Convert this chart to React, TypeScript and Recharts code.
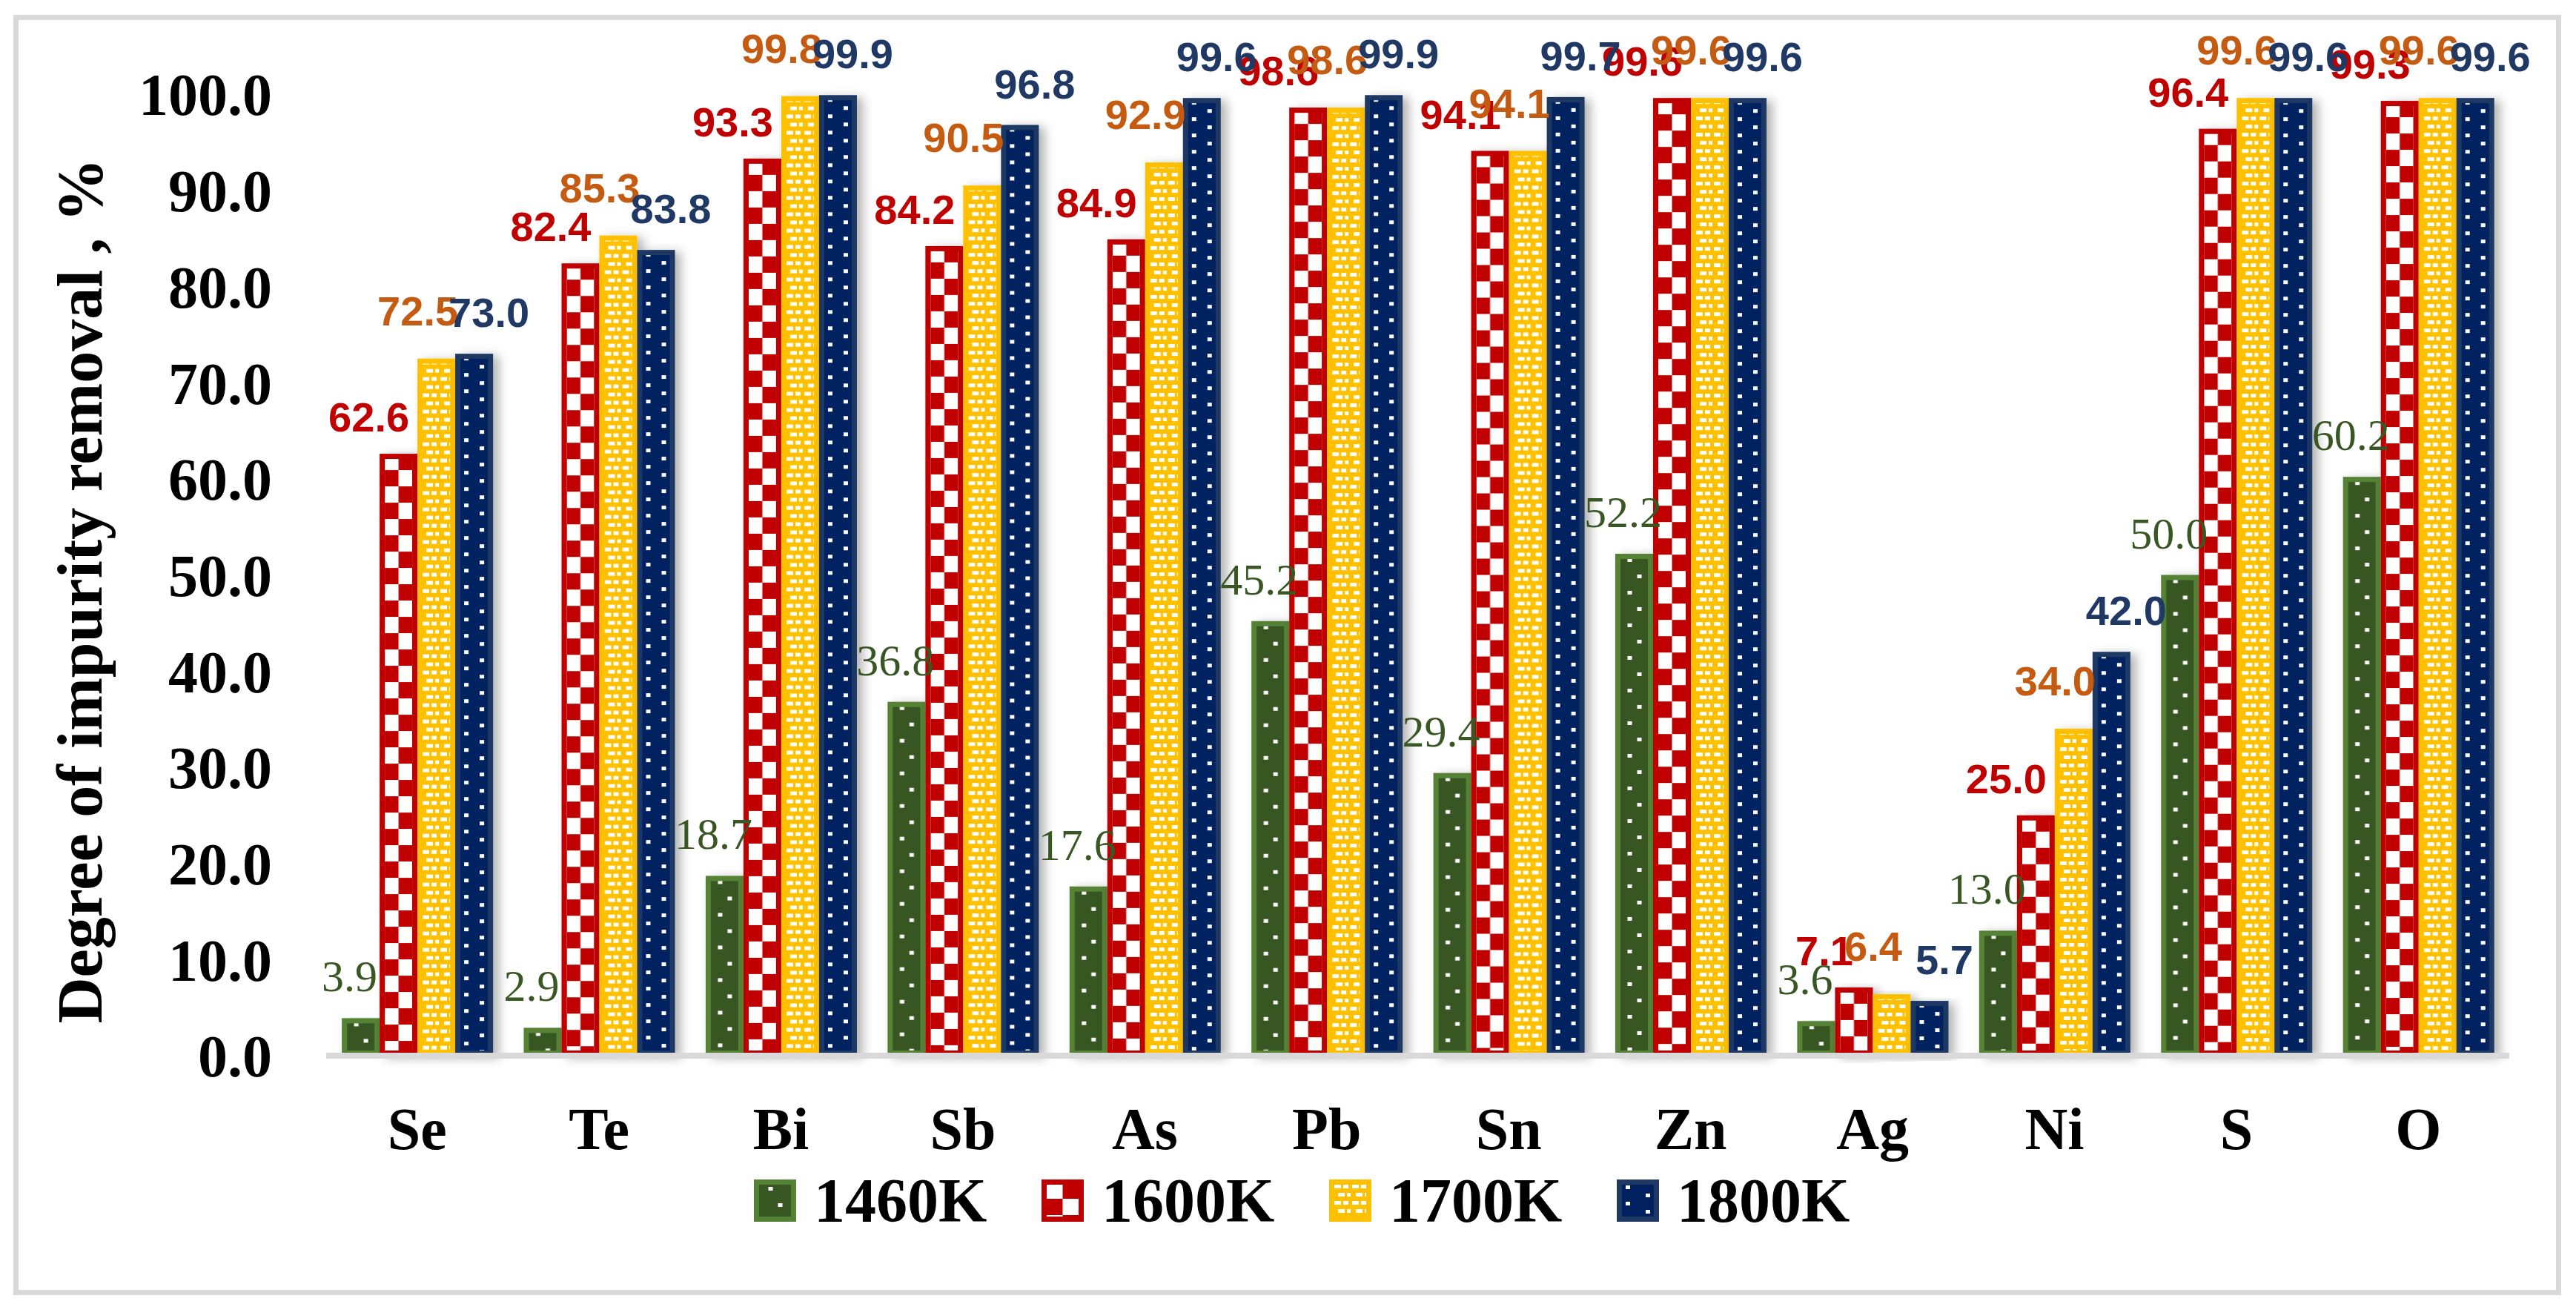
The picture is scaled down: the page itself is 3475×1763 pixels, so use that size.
import { Bar, BarChart, LabelList, XAxis, YAxis } from "recharts";

const elements = ["Se", "Te", "Bi", "Sb", "As", "Pb", "Sn", "Zn", "Ag", "Ni", "S", "O"];
const removal1460 = [3.9, 2.9, 18.7, 36.8, 17.6, 45.2, 29.4, 52.2, 3.6, 13.0, 50.0, 60.2];
const removal1600 = [62.6, 82.4, 93.3, 84.2, 84.9, 98.6, 94.1, 99.6, 7.1, 25.0, 96.4, 99.3];
const removal1700 = [72.5, 85.3, 99.8, 90.5, 92.9, 98.6, 94.1, 99.6, 6.4, 34.0, 99.6, 99.6];
const removal1800 = [73.0, 83.8, 99.9, 96.8, 99.6, 99.9, 99.7, 99.6, 5.7, 42.0, 99.6, 99.6];
const yTicks = [0, 10, 20, 30, 40, 50, 60, 70, 80, 90, 100];

const data = elements.map((element, i) => ({
  element,
  k1460: removal1460[i],
  k1600: removal1600[i],
  k1700: removal1700[i],
  k1800: removal1800[i],
}));

const SERIF = '"Liberation Serif", "Times New Roman", serif';
const SANS = '"Liberation Sans", Arial, sans-serif';
const BORDER = 7;

type Kind = "green" | "red" | "yellow" | "blue";

// label nudges are per series only (Excel had them dragged around by hand)
const SERIES: {
  key: string;
  name: string;
  kind: Kind;
  border: string;
  labelColor: string;
  labelFont: string;
  labelWeight: number;
  dx: number;
  lift: number;
}[] = [
  { key: "k1460", name: "1460K", kind: "green", border: "#548235", labelColor: "#385723", labelFont: SERIF, labelWeight: 400, dx: -15, lift: 36 },
  { key: "k1600", name: "1600K", kind: "red", border: "#c00000", labelColor: "#c00000", labelFont: SANS, labelWeight: 700, dx: -40, lift: 30 },
  { key: "k1700", name: "1700K", kind: "yellow", border: "#ffc000", labelColor: "#c55a11", labelFont: SANS, labelWeight: 700, dx: -25, lift: 45 },
  { key: "k1800", name: "1800K", kind: "blue", border: "#1f3864", labelColor: "#1f3864", labelFont: SANS, labelWeight: 700, dx: 20, lift: 36 },
];

function renderPattern(kind: Kind, id: string, x: number, y: number, w: number) {
  if (kind === "green") {
    return (
      <pattern id={id} x={x} y={y} width={w} height={44} patternUnits="userSpaceOnUse">
        <rect width={w} height={44} fill="#385723" />
        <rect x={w / 2 - 9} y={6} width={6} height={5} fill="#fff" />
        <rect x={w / 2 + 4} y={28} width={6} height={5} fill="#fff" />
      </pattern>
    );
  }
  if (kind === "red") {
    const cw = (w - 2 * BORDER) / 2;
    return (
      <pattern id={id} x={x + BORDER} y={y} width={cw * 2} height={44} patternUnits="userSpaceOnUse">
        <rect width={cw * 2} height={44} fill="#fff" />
        <rect x={cw} y={0} width={cw} height={22} fill="#c00000" />
        <rect x={0} y={22} width={cw} height={22} fill="#c00000" />
      </pattern>
    );
  }
  if (kind === "yellow") {
    return (
      <pattern id={id} x={x + 5} y={y} width={24} height={22} patternUnits="userSpaceOnUse">
        <rect width={24} height={22} fill="#ffc000" />
        <rect x={2} y={3} width={9} height={5} fill="#fff" />
        <rect x={14} y={3} width={7} height={5} fill="#fff" />
        <rect x={7} y={14} width={9} height={5} fill="#fff" />
        <rect x={19} y={14} width={5} height={5} fill="#fff" />
      </pattern>
    );
  }
  return (
    <pattern id={id} x={x} y={y} width={w} height={22} patternUnits="userSpaceOnUse">
      <rect width={w} height={22} fill="#002060" />
      <rect x={12} y={4} width={6} height={5} fill="#fff" />
      <rect x={w - 18} y={15} width={6} height={5} fill="#fff" />
    </pattern>
  );
}

function PatternBar(props: any) {
  const { x, y, width, height, index, series } = props;
  if (!width || !height) return null;
  const id = `${series.key}-fill-${index}`;
  return (
    <g filter="url(#barShadow)">
      <defs>{renderPattern(series.kind, id, x, y, width)}</defs>
      <rect
        x={x + BORDER / 2}
        y={y + BORDER / 2}
        width={width - BORDER}
        height={height - BORDER}
        fill={`url(#${id})`}
        stroke={series.border}
        strokeWidth={BORDER}
      />
    </g>
  );
}

function makeLabel(series: (typeof SERIES)[number]) {
  return (props: any) => {
    const { x, y, width, value } = props;
    return (
      <text
        x={x + width / 2 + series.dx}
        y={y - series.lift}
        textAnchor="middle"
        fill={series.labelColor}
        fontFamily={series.labelFont}
        fontWeight={series.labelWeight}
        fontSize={series.kind === "green" ? 60 : 56}
      >
        {Number(value).toFixed(1)}
      </text>
    );
  };
}

function YTitle() {
  return (
    <text
      x={107}
      y={797}
      dy="0.35em"
      transform="rotate(-90 107 797)"
      textAnchor="middle"
      fontFamily={SERIF}
      fontWeight={700}
      fontSize={86}
      fill="#000"
    >
      Degree of impurity removal , %
    </text>
  );
}

function Swatch({ series }: { series: (typeof SERIES)[number] }) {
  const id = `legend-${series.key}`;
  return (
    <svg width={57} height={57}>
      <defs>{renderPattern(series.kind, id, 0, 4, 57)}</defs>
      <rect
        x={BORDER / 2}
        y={BORDER / 2}
        width={57 - BORDER}
        height={57 - BORDER}
        fill={`url(#${id})`}
        stroke={series.border}
        strokeWidth={BORDER}
      />
    </svg>
  );
}

export default function App() {
  return (
    <div style={{ position: "absolute", left: 0, top: 0, width: 3475, height: 1763, background: "#fff" }}>
      <div
        style={{
          position: "absolute",
          left: 18,
          top: 20,
          width: 3437,
          height: 1727,
          border: "7px solid #d9d9d9",
          boxSizing: "border-box",
        }}
      />
      <div style={{ position: "absolute", left: 0, top: 0 }}>
        <BarChart
          width={3475}
          height={1763}
          data={data}
          margin={{ top: 127, right: 90, left: 0, bottom: 259 }}
          barCategoryGap="8.6%"
          barGap={0}
        >
          <defs>
            <filter id="barShadow" x="-40%" y="-10%" width="200%" height="125%">
              <feDropShadow dx={8} dy={3} stdDeviation={7} floodColor="#000" floodOpacity={0.3} />
            </filter>
          </defs>
          <XAxis
            dataKey="element"
            interval={0}
            height={80}
            axisLine={{ stroke: "#d9d9d9", strokeWidth: 8 }}
            tickLine={false}
            tickSize={0}
            tickMargin={69}
            tick={{ fontSize: 80, fontFamily: SERIF, fontWeight: 700, fill: "#000" }}
          />
          <YAxis
            width={440}
            domain={[0, 100]}
            ticks={yTicks}
            interval={0}
            axisLine={false}
            tickLine={false}
            tickSize={0}
            tickMargin={73}
            tickFormatter={(v: number) => v.toFixed(1)}
            tick={{ fontSize: 80, fontFamily: SERIF, fontWeight: 700, fill: "#000" }}
            label={<YTitle />}
          />
          {SERIES.map((s) => (
            <Bar
              key={s.key}
              dataKey={s.key}
              name={s.name}
              isAnimationActive={false}
              shape={(p: any) => <PatternBar {...p} series={s} />}
            >
              <LabelList dataKey={s.key} content={makeLabel(s)} />
            </Bar>
          ))}
        </BarChart>
      </div>
      <div style={{ position: "absolute", left: 1017, top: 1591, display: "flex", alignItems: "center", height: 57 }}>
        {SERIES.map((s) => (
          <div key={s.key} style={{ display: "flex", alignItems: "center", width: 388, height: 57 }}>
            <Swatch series={s} />
            <span
              style={{
                marginLeft: 24,
                fontFamily: SERIF,
                fontWeight: 700,
                fontSize: 84,
                lineHeight: "57px",
                color: "#000",
              }}
            >
              {s.name}
            </span>
          </div>
        ))}
      </div>
    </div>
  );
}
